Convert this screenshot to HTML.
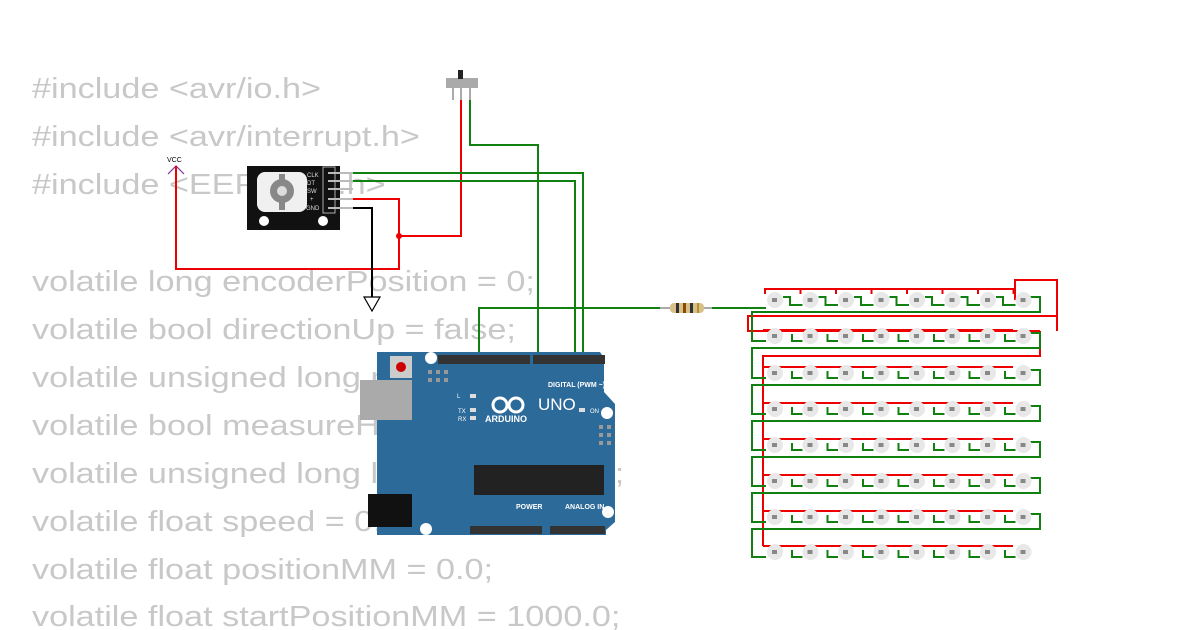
<!DOCTYPE html>
<html><head><meta charset="utf-8"><style>
html,body{margin:0;padding:0;background:#fff;width:1200px;height:630px;overflow:hidden}
svg{display:block}
.code{font-family:"Liberation Sans",sans-serif;font-size:29px;fill:#c8c8c8}
</style></head><body>
<svg id="s" width="1200" height="630" xmlns="http://www.w3.org/2000/svg">
<g class="code" transform="scale(1.18,1)">
<text x="27.1" y="98">#include &lt;avr/io.h&gt;</text>
<text x="27.1" y="146">#include &lt;avr/interrupt.h&gt;</text>
<text x="27.1" y="194">#include &lt;EEPROM.h&gt;</text>
<text x="27.1" y="291">volatile long encoderPosition = 0;</text>
<text x="27.1" y="339">volatile bool directionUp = false;</text>
<text x="27.1" y="387">volatile unsigned long measureT;</text>
<text x="27.1" y="435">volatile bool measureHigh;</text>
<text x="27.1" y="483">volatile unsigned long lastMeasure = 0;</text>
<text x="27.1" y="531">volatile float speed = 0.0;</text>
<text x="27.1" y="579">volatile float positionMM = 0.0;</text>
<text x="27.1" y="626">volatile float startPositionMM = 1000.0;</text>
</g>
<!-- switch -->
<rect x="446" y="78" width="32" height="10" fill="#aaa"/>
<rect x="458" y="70" width="5" height="9" fill="#222"/>
<g stroke="#aaa" stroke-width="2"><line x1="453" y1="88" x2="453" y2="100"/><line x1="461" y1="88" x2="461" y2="100"/><line x1="470" y1="88" x2="470" y2="100"/></g>
<!-- encoder -->
<rect x="247" y="166" width="93" height="64" fill="#111"/>
<rect x="257" y="172" width="50" height="40" rx="8" fill="#f0f0f0"/>
<circle cx="282" cy="191" r="12" fill="#888"/><rect x="279" y="174" width="6" height="36" fill="#888"/>
<circle cx="282" cy="191" r="5" fill="#ddd"/>
<circle cx="264" cy="221" r="5" fill="#fff"/><circle cx="323" cy="221" r="5" fill="#fff"/>
<rect x="323" y="167" width="12" height="46" fill="none" stroke="#aaa"/>
<g font-family="Liberation Sans,sans-serif" font-size="6" fill="#ddd"><text x="307" y="177">CLK</text><text x="307" y="185">DT</text><text x="307" y="193">SW</text><text x="310" y="201">+</text><text x="306" y="210">GND</text></g>
<g stroke="#bbb" stroke-width="2"><line x1="328" y1="173" x2="353" y2="173"/><line x1="328" y1="181" x2="353" y2="181"/><line x1="328" y1="189" x2="353" y2="189"/><line x1="328" y1="199" x2="353" y2="199"/><line x1="328" y1="208" x2="353" y2="208"/></g>
<!-- VCC / GND -->
<text x="167" y="162" font-family="Liberation Sans,sans-serif" font-size="7">VCC</text>
<path d="M168 174 L176 166 L184 174" fill="none" stroke="#8030a0" stroke-width="1.2"/>
<path d="M364 297 L380 297 L372 311 Z" fill="#fff" stroke="#000" stroke-width="1.2"/>
<!-- wires -->
<g fill="none" stroke-width="2">
<path d="M176 166 V269 H399 V199 H353" stroke="#e00"/>
<path d="M461 100 V236 H399" stroke="#e00"/>
<path d="M353 208 H372 V297" stroke="#000"/>
<path d="M470 100 V145 H538 V357" stroke="#108010"/>
<path d="M353 173 H583 V357" stroke="#108010"/>
<path d="M353 181 H575 V357" stroke="#108010"/>
<path d="M479 357 V308 H668" stroke="#108010"/>
<path d="M708 308 H766" stroke="#108010"/>
</g>
<circle cx="399" cy="236" r="3" fill="#e00"/>
<!-- resistor -->
<line x1="660" y1="308" x2="712" y2="308" stroke="#aaa" stroke-width="2"/>
<rect x="670" y="303" width="34" height="10" rx="4" fill="#d8c08a"/>
<g fill="#333"><rect x="676" y="303" width="3" height="10"/><rect x="683" y="303" width="3" height="10" fill="#8a4a00"/><rect x="690" y="303" width="3" height="10"/><rect x="697" y="303" width="2" height="10" fill="#b8902a"/></g>
<!-- arduino -->
<path d="M377 352 H600 L604 358 V392 L615 404 V522 L606 530 V535 H377 Z" fill="#2c6a9a"/>
<rect x="360" y="380" width="52" height="40" fill="#aaa"/>
<rect x="368" y="494" width="44" height="33" fill="#111"/>
<rect x="390" y="356" width="22" height="22" fill="#ccc"/><circle cx="401" cy="367" r="5" fill="#c00"/>
<circle cx="431" cy="358" r="6" fill="#fff"/><circle cx="426" cy="529" r="6" fill="#fff"/>
<circle cx="607" cy="413" r="6" fill="#fff"/><circle cx="608" cy="512" r="6" fill="#fff"/>
<rect x="438" y="355" width="92" height="9" fill="#333"/>
<rect x="533" y="355" width="72" height="9" fill="#333"/>
<rect x="470" y="526" width="72" height="8" fill="#333"/>
<rect x="550" y="526" width="55" height="8" fill="#333"/>
<rect x="474" y="465" width="130" height="30" fill="#222"/>
<g fill="#999"><rect x="428" y="370" width="4" height="4"/><rect x="436" y="370" width="4" height="4"/><rect x="444" y="370" width="4" height="4"/><rect x="428" y="378" width="4" height="4"/><rect x="436" y="378" width="4" height="4"/><rect x="444" y="378" width="4" height="4"/>
<rect x="599" y="425" width="4" height="4"/><rect x="607" y="425" width="4" height="4"/><rect x="599" y="433" width="4" height="4"/><rect x="607" y="433" width="4" height="4"/><rect x="599" y="441" width="4" height="4"/><rect x="607" y="441" width="4" height="4"/></g>
<g fill="#fff" font-family="Liberation Sans,sans-serif">
<text x="548" y="387" font-size="7" font-weight="bold">DIGITAL (PWM ~)</text>
<text x="538" y="410" font-size="17">UNO</text>
<text x="485" y="422" font-size="9" font-weight="bold">ARDUINO</text>
<text x="516" y="509" font-size="7" font-weight="bold">POWER</text>
<text x="565" y="509" font-size="7" font-weight="bold">ANALOG IN</text>
<text x="457" y="398" font-size="6">L</text><text x="458" y="413" font-size="6">TX</text><text x="458" y="421" font-size="6">RX</text><text x="590" y="413" font-size="6">ON</text>
</g>
<g fill="none" stroke="#fff" stroke-width="3"><circle cx="500" cy="405" r="7"/><circle cx="516" cy="405" r="7"/></g>
<rect x="470" y="394" width="6" height="4" fill="#ddd"/><rect x="470" y="408" width="6" height="4" fill="#ddd"/><rect x="470" y="416" width="6" height="4" fill="#ddd"/><rect x="579" y="408" width="6" height="4" fill="#ddd"/>
<g id="leds"></g>
</svg>
<script>
var g=document.getElementById('leds'),h='';
var ys=[300,336,373,409,445,481,517,552],xs=[];
for(var i=0;i<8;i++)xs.push(775+i*35.5);
h+='<path d="M1015 300 V280 H1057 V316 H748 V331 H1040" fill="none" stroke="#e00" stroke-width="2"/>';
h+='<path d="M1057 316 V331" fill="none" stroke="#e00" stroke-width="2"/>';
h+='<path d="M1040 331 V356 H763 V546" fill="none" stroke="#e00" stroke-width="2"/>';
for(var r=0;r<8;r++){var y=ys[r];
 if(r==0){for(var i=0;i<7;i++){h+='<path d="M'+(xs[i]-10)+' '+(y-6)+' V'+(y-11)+' H'+(xs[i+1]-10)+' V'+(y-6)+'" fill="none" stroke="#e00" stroke-width="2"/>';}}
 else h+='<line x1="763" y1="'+(y-6)+'" x2="1013" y2="'+(y-6)+'" stroke="#e00" stroke-width="2"/>';
 for(var i=0;i<7;i++)h+='<path d="M'+(xs[i]+8)+' '+(y-3)+(r==0?' H'+(xs[i]+15)+' V'+(y+5):' M'+(xs[i]+17)+' '+(y-2)+' V'+(y+5))+' H'+(xs[i+1]-8)+'" fill="none" stroke="#108010" stroke-width="2"/>';
 if(r<7)h+='<path d="M1030 '+(y-3)+' H1040 V'+(y+12)+' H752 V'+(ys[r+1]+5)+' H766" fill="none" stroke="#108010" stroke-width="2"/>';
 for(var i=0;i<8;i++){h+='<circle cx="'+xs[i]+'" cy="'+y+'" r="8" fill="#e8e8e8"/><rect x="'+(xs[i]-3)+'" y="'+(y-2)+'" width="5" height="4" fill="#888"/>';}
}
g.innerHTML=h;
</script>
</body></html>
